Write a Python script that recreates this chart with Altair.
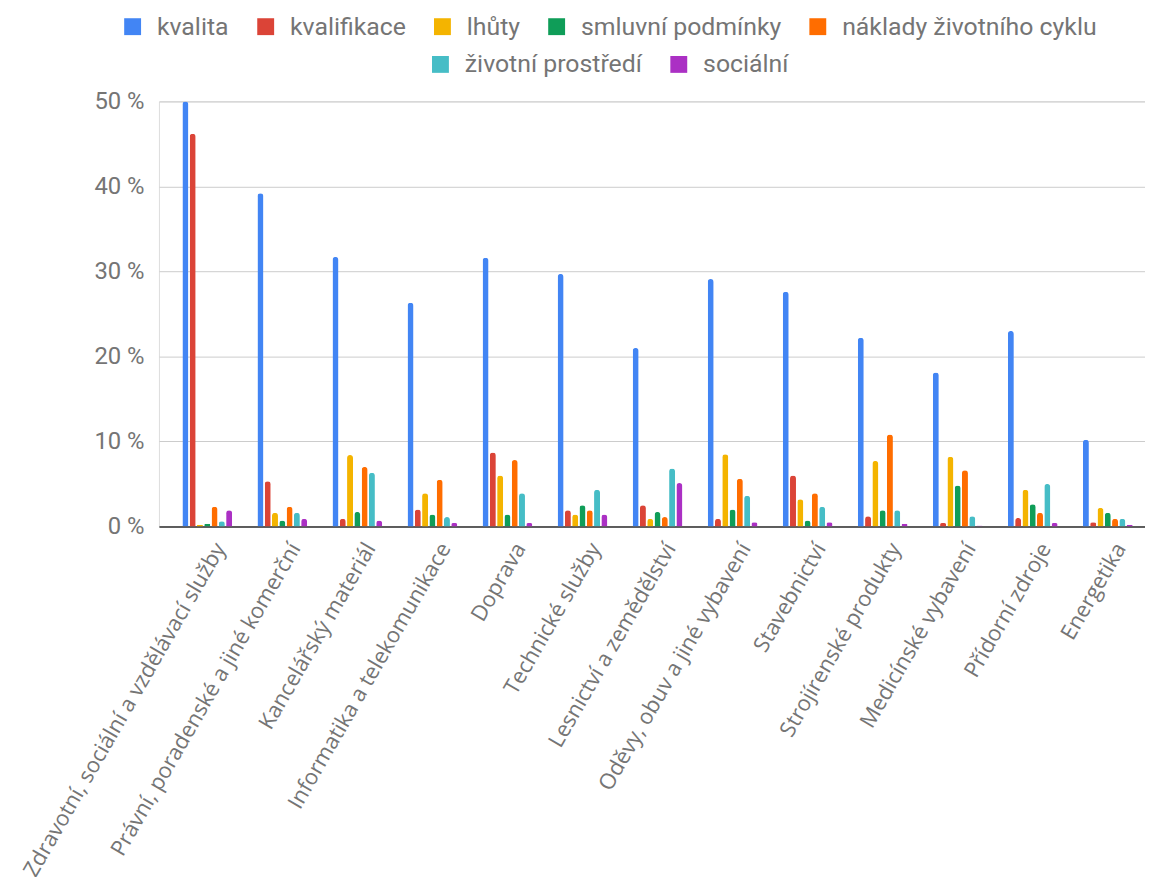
import altair as alt
import pandas as pd

categories = [
    "Zdravotní, sociální a vzdělávací služby",
    "Právní, poradenské a jiné komerční",
    "Kancelářský materiál",
    "Informatika a telekomunikace",
    "Doprava",
    "Technické služby",
    "Lesnictví a zemědělství",
    "Oděvy, obuv a jiné vybavení",
    "Stavebnictví",
    "Strojírenské produkty",
    "Medicínské vybavení",
    "Přídorní zdroje",
    "Energetika",
]

series = ["kvalita", "kvalifikace", "lhůty", "smluvní podmínky",
          "náklady životního cyklu", "životní prostředí", "sociální"]
colors = ["#4285F4", "#DB4437", "#F4B400", "#0F9D58", "#FF6D00", "#46BDC6", "#AB30C4"]

kvalita = [50.0, 39.2, 31.7, 26.3, 31.6, 29.7, 21.0, 29.1, 27.6, 22.2, 18.1, 23.0, 10.2]
kvalifikace = [46.2, 5.3, 0.9, 2.0, 8.7, 1.9, 2.5, 0.9, 6.0, 1.2, 0.4, 1.0, 0.5]
lhuty = [0.2, 1.6, 8.4, 3.9, 6.0, 1.4, 0.9, 8.5, 3.2, 7.7, 8.2, 4.3, 2.2]
smluvni = [0.3, 0.7, 1.7, 1.4, 1.4, 2.5, 1.7, 2.0, 0.7, 1.9, 4.8, 2.6, 1.6]
naklady = [2.3, 2.3, 7.0, 5.5, 7.8, 1.9, 1.1, 5.6, 3.9, 10.8, 6.6, 1.6, 0.9]
zivotni = [0.6, 1.6, 6.3, 1.1, 3.9, 4.3, 6.8, 3.6, 2.3, 1.9, 1.2, 5.0, 0.9]
socialni = [1.9, 0.9, 0.7, 0.4, 0.4, 1.4, 5.1, 0.5, 0.5, 0.3, 0.1, 0.4, 0.2]

values = [kvalita, kvalifikace, lhuty, smluvni, naklady, zivotni, socialni]

rows = []
for s, vals in zip(series, values):
    for c, v in zip(categories, vals):
        rows.append({"kategorie": c, "rada": s, "hodnota": v})
df = pd.DataFrame(rows)

grey = "#757575"

x = alt.X(
    "kategorie:N", sort=categories,
    scale=alt.Scale(domain=categories, paddingInner=0.32, paddingOuter=0.23, align=0.66),
    axis=alt.Axis(title=None, labelAngle=-60, labelAlign="right", labelBaseline="middle",
                  labelFont="Open Sans", labelFontSize=22, labelColor=grey,
                  labelPadding=18, labelOffset=13, labelLimit=1000, labelOverlap=False,
                  ticks=False, domainColor="#333333", domainWidth=1.5, grid=False),
)
xo = alt.XOffset("rada:N", sort=series,
                 scale=alt.Scale(domain=series, paddingInner=0.18, paddingOuter=0.09))
y = alt.Y(
    "hodnota:Q",
    scale=alt.Scale(domain=[0, 50], nice=False),
    axis=alt.Axis(title=None, values=[0, 10, 20, 30, 40, 50], labelExpr="datum.value + ' %'",
                  labelFont="Roboto", labelFontSize=24, labelColor=grey, labelPadding=15,
                  ticks=False, domain=False, gridColor="#cccccc", gridWidth=1),
)

def legend(lx, ly):
    return alt.Legend(title=None, orient="none", legendX=lx, legendY=ly,
                      direction="horizontal", symbolType="square", symbolSize=289,
                      symbolStrokeWidth=0, symbolOpacity=1, labelFont="Roboto",
                      labelFontSize=25, labelColor=grey, labelOffset=12,
                      columnPadding=24, labelLimit=500, padding=0)

base = alt.Chart(df).mark_bar(cornerRadiusEnd=3).encode(x=x, xOffset=xo, y=y)

layer1 = base.transform_filter(
    alt.FieldOneOfPredicate(field="rada", oneOf=series[:5])
).encode(color=alt.Color("rada:N", sort=series[:5],
                         scale=alt.Scale(domain=series[:5], range=colors[:5]),
                         legend=legend(-39, -88)))

layer2 = base.transform_filter(
    alt.FieldOneOfPredicate(field="rada", oneOf=series[5:])
).encode(color=alt.Color("rada2:N", sort=series[5:],
                         scale=alt.Scale(domain=series[5:], range=colors[5:]),
                         legend=legend(271, -50))).transform_calculate(rada2="datum.rada")

chart = alt.layer(layer1, layer2).resolve_scale(color="independent").properties(
    width=993, height=428,
    autosize=alt.AutoSizeParams(type="none"),
    padding={"left": 152, "top": 91, "right": 0, "bottom": 350},
).configure_view(stroke=None).configure(background="white")

chart.save("out.html", embed_options={"renderer": "svg", "actions": False})
